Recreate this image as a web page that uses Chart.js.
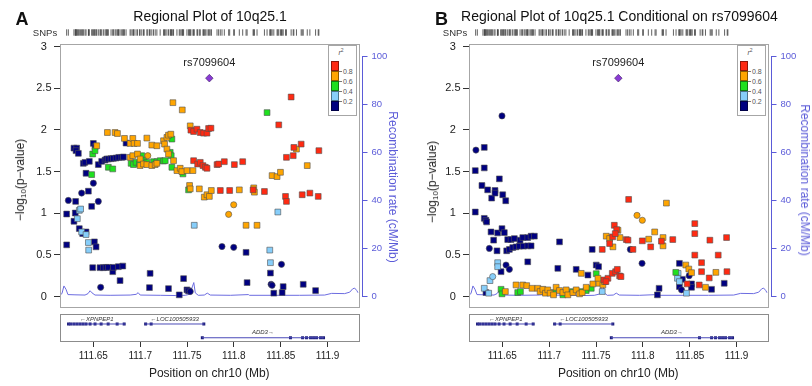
<!DOCTYPE html>
<html><head><meta charset="utf-8">
<script src="https://cdn.jsdelivr.net/npm/chart.js@4.4.1/dist/chart.umd.min.js"></script>
<style>
html,body{margin:0;padding:0;background:#fff;}
#wrap{position:relative;width:812px;height:386px;overflow:hidden;font-family:"Liberation Sans",Arial,Helvetica,sans-serif;color:#111;}
.panel{position:absolute;top:0;height:386px;}
.panel canvas{position:absolute;left:0;top:0;}
.ov{position:absolute;white-space:nowrap;line-height:1;transform:translate(-50%,-50%);}
.ovl{position:absolute;white-space:nowrap;line-height:1;}
</style></head><body>
<div id="wrap">
  <div class="panel" id="pA" style="left:0;width:406px"></div>
  <div class="panel" id="pB" style="left:409px;width:403px"></div>
</div>
<script>
// ---------------- data ----------------
const xMin = 111.6144, xMax = 111.9330;
const xTickVals = [111.65, 111.7, 111.75, 111.8, 111.85, 111.9];
const yTickVals = [0, 0.5, 1, 1.5, 2, 2.5, 3];
const recTickVals = [0, 20, 40, 60, 80, 100];
const r2TickLabels = ['0.8', '0.6', '0.4', '0.2'];

const titleA = 'Regional Plot of 10q25.1';
const titleB = 'Regional Plot of 10q25.1 Conditional on rs7099604';
const topSnpName = 'rs7099604';
const topSnpPos = 111.7738;
const topSnpA = 2.62;
const topSnpB = 2.62;

// [position Mb, -log10 p, marker (0 square, 1 circle)]
const aNavy = [
 [111.6215,0.62,0],[111.6215,0.99,0],[111.6311,1.141,0],[111.6293,1.781,0],[111.6322,1.781,0],
 [111.6315,1.750,0],[111.6340,1.718,0],[111.6393,1.598,0],[111.6411,1.610,0],[111.6422,1.479,0],
 [111.6447,1.264,0],[111.6457,1.622,0],[111.6500,1.837,0],[111.6518,1.797,0],[111.6482,1.082,0],
 [111.6307,1.002,0],[111.6293,0.903,0],[111.6350,0.815,0],[111.6386,0.755,0],[111.6422,0.775,0],
 [111.6511,0.656,0],[111.6529,0.596,0],[111.6553,1.583,0],[111.6589,1.622,0],[111.6625,1.638,0],
 [111.6643,1.650,0],[111.6660,1.650,0],[111.6689,1.654,0],[111.6714,1.658,0],[111.6743,1.662,0],
 [111.6771,1.670,0],[111.6803,1.670,0],[111.6821,1.674,0],[111.6849,1.841,0],[111.6493,0.346,0],
 [111.6571,0.346,0],[111.6607,0.346,0],[111.6636,0.350,0],[111.6660,0.350,0],[111.6707,0.298,0],
 [111.6714,0.350,0],[111.6767,0.358,0],[111.6814,0.366,0],[111.6785,0.191,0],[111.7106,0.278,0],
 [111.7099,0.107,0],[111.7302,0.095,0],[111.7417,0.020,0],[111.7463,0.215,0],[111.7499,0.080,0],
 [111.7516,0.068,0],[111.8130,0.530,0],[111.8141,0.167,0],[111.8390,0.282,0],[111.8426,0.040,0],
 [111.8526,0.119,0],[111.8515,0.048,0],[111.8740,0.147,0],[111.8872,0.072,0],
 [111.6233,1.153,1],[111.6375,1.241,1],[111.6500,1.360,1],[111.6553,1.141,1],[111.6578,0.111,1],
 [111.7534,0.060,1],[111.7873,0.600,1],[111.7998,0.590,1],[111.8397,0.147,1],[111.8408,0.135,1],
 [111.8508,0.386,1]
];
const aLblue = [
 [111.6329,0.934,0],[111.6350,1.034,0],[111.6364,1.050,0],[111.6375,0.775,0],[111.6422,0.744,0],
 [111.6447,0.648,0],[111.6450,0.557,0],[111.7577,0.855,0],[111.8469,1.014,0],[111.8383,0.557,0],
 [111.8390,0.406,0]
];
const aGreen = [
 [111.6482,1.463,0],[111.6493,1.710,0],[111.6518,1.750,0],[111.6660,1.551,0],[111.6707,1.531,0],
 [111.6903,1.598,0],[111.6928,1.583,0],[111.6956,1.610,0],[111.6992,1.590,0],[111.7017,1.690,0],
 [111.7042,1.630,0],[111.7071,1.610,0],[111.7142,1.618,0],[111.7178,1.618,0],[111.7213,1.630,0],
 [111.7249,1.626,0],[111.7267,1.630,0],[111.7338,1.889,0],[111.7320,1.730,0],[111.7331,1.690,0],
 [111.7338,1.551,0],[111.7456,1.471,0],[111.7516,1.280,0],[111.8354,2.207,0]
];
const aOrange = [
 [111.6536,1.809,0],[111.6650,1.968,0],[111.6732,1.968,0],[111.6757,1.956,0],[111.6832,1.897,0],
 [111.6892,1.837,0],[111.6921,1.897,0],[111.6935,1.837,0],[111.6971,1.837,0],[111.7071,1.901,0],
 [111.7124,1.817,0],[111.7178,1.809,0],[111.6892,1.670,0],[111.6921,1.690,0],[111.6971,1.710,0],
 [111.6999,1.650,0],[111.6999,1.571,0],[111.7035,1.590,0],[111.7071,1.583,0],[111.7124,1.571,0],
 [111.7160,1.583,0],[111.7178,1.598,0],[111.7249,1.869,0],[111.7260,1.829,0],[111.7285,1.909,0],
 [111.7302,1.936,0],[111.7327,1.948,0],[111.7285,1.769,0],[111.7302,1.710,0],[111.7349,2.326,0],
 [111.7449,2.239,0],[111.7356,1.630,0],[111.7392,1.511,0],[111.7427,1.539,0],[111.7445,1.499,0],
 [111.7499,1.511,0],[111.7563,1.511,0],[111.7534,2.048,0],[111.7527,1.332,0],[111.7534,1.292,0],
 [111.7631,1.292,0],[111.7684,1.193,0],[111.7713,1.221,0],[111.7738,1.201,0],[111.7759,1.272,0],
 [111.8058,1.280,0],[111.8130,0.855,0],[111.8247,0.855,0],[111.8212,1.304,0],[111.8219,1.252,0],
 [111.8408,1.451,0],[111.8461,1.439,0],[111.8497,1.491,0],[111.8668,1.769,0],[111.8783,1.571,0],
 [111.7081,1.690,1],[111.7944,0.986,1],[111.7998,1.101,1]
];
const aRed = [
 [111.7541,1.996,0],[111.7570,1.980,0],[111.7606,2.008,0],[111.7641,1.968,0],[111.7677,1.960,0],
 [111.7713,1.960,0],[111.7730,2.016,0],[111.7755,2.020,0],[111.7570,1.630,0],[111.7613,1.590,0],
 [111.7641,1.610,0],[111.7670,1.571,0],[111.7695,1.551,0],[111.7713,1.539,0],[111.7820,1.583,0],
 [111.7837,1.590,0],[111.7898,1.618,0],[111.8005,1.583,0],[111.8094,1.618,0],[111.7855,1.272,0],
 [111.7955,1.272,0],[111.8205,1.280,0],[111.8326,1.260,0],[111.8479,2.060,0],[111.8611,2.394,0],
 [111.8561,1.670,0],[111.8633,1.690,0],[111.8640,1.789,0],[111.8718,1.829,0],[111.8551,1.201,0],
 [111.8561,1.141,0],[111.8729,1.221,0],[111.8811,1.241,0],[111.8900,1.201,0],[111.8907,1.750,0]
];

const bNavy = [
 [111.6211,1.511,0],[111.6211,1.014,0],[111.6307,1.789,0],[111.6307,1.543,0],[111.6282,1.332,0],
 [111.6343,1.280,0],[111.6386,1.181,0],[111.6422,1.272,0],[111.6422,1.241,0],[111.6468,1.412,0],
 [111.6504,1.221,0],[111.6536,1.149,0],[111.6307,0.938,0],[111.6325,0.915,0],[111.6332,0.895,0],
 [111.6379,0.775,0],[111.6450,0.763,0],[111.6496,0.815,0],[111.6521,0.767,0],[111.6407,0.676,0],
 [111.6443,0.549,0],[111.6486,0.298,0],
 [111.6557,0.684,0],[111.6593,0.684,0],[111.6628,0.696,0],[111.6689,0.676,0],[111.6718,0.708,0],
 [111.6771,0.708,0],[111.6807,0.724,0],[111.6842,0.724,0],
 [111.6546,0.549,0],[111.6575,0.565,0],[111.6611,0.588,0],[111.6646,0.596,0],[111.6682,0.604,0],
 [111.6725,0.604,0],[111.6771,0.608,0],[111.6807,0.608,0],
 [111.6771,0.417,0],[111.7110,0.656,0],[111.7092,0.338,0],[111.7288,0.326,0],[111.7459,0.565,0],
 [111.7502,0.378,0],[111.7527,0.358,0],[111.7413,0.258,0],[111.6325,0.048,0],[111.8390,0.398,0],
 [111.8422,0.207,0],[111.8390,0.119,0],[111.8519,0.151,0],[111.8519,0.111,0],[111.8733,0.087,0],
 [111.8868,0.159,0],[111.8173,0.099,0],[111.8155,0.020,0],
 [111.6218,1.757,1],[111.6496,2.167,1],[111.6361,0.577,1],[111.6539,0.378,1],[111.6575,0.326,1],
 [111.7866,0.565,1],[111.7991,0.398,1],[111.8494,0.250,1],[111.8412,0.080,1]
];
const bLblue = [
 [111.6307,0.099,0],[111.6354,0.040,0],[111.6368,0.191,0],[111.6397,0.239,1],[111.6450,0.406,0],
 [111.6450,0.358,0],[111.7566,0.060,0],[111.8376,0.278,0],[111.8369,0.219,0],[111.8390,0.179,0],
 [111.8465,0.040,0]
];
const bGreen = [
 [111.6486,0.087,0],[111.6496,0.032,0],[111.6664,0.048,0],[111.6693,0.060,0],[111.6924,0.080,0],
 [111.6967,0.048,0],[111.7046,0.048,0],[111.7146,0.020,0],[111.7245,0.060,0],[111.7342,0.060,0],
 [111.7395,0.072,0],[111.7449,0.099,0],[111.7502,0.274,0],[111.8351,0.290,0]
];
const bOrange = [
 [111.6532,0.060,0],[111.6646,0.139,0],[111.6718,0.139,0],[111.6760,0.131,0],[111.6817,0.099,0],
 [111.6878,0.099,0],[111.6903,0.060,0],[111.6932,0.087,0],[111.6960,0.040,0],[111.6985,0.080,0],
 [111.7010,0.040,0],[111.7046,0.020,0],[111.7074,0.111,0],[111.7110,0.072,0],[111.7146,0.048,0],
 [111.7181,0.080,0],[111.7199,0.020,0],[111.7253,0.048,0],[111.7288,0.080,0],[111.7324,0.032,0],
 [111.7352,0.048,0],[111.7395,0.111,0],[111.7466,0.151,0],[111.7531,0.159,0],[111.7573,0.139,0],
 [111.7520,0.219,0],[111.7591,0.179,0],[111.7342,0.278,0],[111.7680,0.596,0],[111.7609,0.724,0],
 [111.7645,0.696,0],[111.7734,0.795,0],[111.7755,0.708,0],[111.8062,0.688,0],[111.8126,0.775,0],
 [111.8215,0.708,0],[111.8215,0.608,0],[111.8251,1.121,0],[111.8458,0.378,0],[111.8490,0.330,0],
 [111.8519,0.286,0],[111.8779,0.290,0],[111.8668,0.111,0],
 [111.7937,0.974,1],[111.7994,0.915,1]
];
const bRed = [
 [111.7848,1.165,0],[111.7695,0.855,0],[111.7720,0.803,0],[111.7645,0.636,0],[111.7677,0.716,0],
 [111.7705,0.755,0],[111.7823,0.684,0],[111.7841,0.676,0],[111.7566,0.565,0],[111.7894,0.565,0],
 [111.7994,0.668,0],[111.8083,0.596,0],[111.8198,0.664,0],[111.8319,0.684,0],[111.8554,0.875,0],
 [111.8554,0.755,0],[111.8554,0.497,0],[111.8626,0.406,0],[111.8626,0.298,0],[111.8715,0.676,0],
 [111.8804,0.497,0],[111.8893,0.708,0],[111.8897,0.298,0],[111.8708,0.223,0],[111.8472,0.151,0],
 [111.8601,0.139,0],[111.7584,0.199,0],[111.7627,0.219,0],[111.7673,0.278,0],[111.7709,0.298,0],
 [111.7727,0.326,0],[111.7752,0.247,0],[111.7766,0.239,0],[111.7606,0.179,0]
];

// recombination rate (cM/Mb)
const recombPos = [111.6149,111.6165,111.6186,111.6208,111.6229,111.6304,111.6411,111.6443,111.6465,111.6486,
 111.6518,111.6679,111.6893,111.6957,111.6978,111.7000,111.7214,111.7374,111.7481,111.7535,
 111.7556,111.7572,111.7588,111.7620,111.7684,111.7716,111.7748,111.7962,111.8155,111.8166,
 111.8487,111.8701,111.8969,111.9043,111.9182,111.9236,111.9268,111.9289,111.9311,111.9327];
const recombRate = [0.8,1.2,4.4,3.0,0.8,0.7,0.6,1.2,2.4,1.5,
 0.6,0.5,0.6,0.9,1.6,0.6,0.5,0.4,0.5,1.0,
 4.0,5.8,1.5,0.5,0.6,1.4,0.6,0.5,0.8,0.5,
 0.5,0.5,0.6,1.3,1.2,1.8,3.2,3.5,2.5,1.5];

// genes
const geneNames = ['XPNPEP1', 'LOC100505933', 'ADD3'];
const geneStart = [111.6233, 111.7053, 111.7660];
const geneEnd = [111.6839, 111.7684, 111.8960];
const geneStrand = [-1, -1, 1];
const geneRow = [0.63, 0.63, 0.12];
const geneExons = [
 [111.6235,111.6261,111.6294,111.6326,111.6358,111.6390,111.6422,111.6465,111.6518,111.6583,111.6658,111.6754,111.6829],
 [111.7058,111.7117,111.7679],
 [111.7663,111.8604,111.8733,111.8775,111.8818,111.8850,111.8882,111.8925,111.8957]
];

// ---------------- style ----------------
const FONT = '"Liberation Sans", Arial, Helvetica, sans-serif';
Chart.defaults.font.family = FONT;
const BLUE = '#5b5bd8';
const BLUE_LINE = '#6c6ce0';
const BIN_COLORS = ['#000080', '#87cefa', '#1fe01f', '#ffa500', '#ff2a12']; // navy, lblue, green, orange, red
const H = 386, BOX_L = 60, BOX_R = 358.5, MAIN_T = 44, MAIN_B = 306.7, GENE_T = 314, GENE_B = 341, RUG_T = 29, RUG_B = 36;

const boxPlugin = {
  id: 'box',
  afterDraw(chart, args, o) {
    const a = chart.chartArea, ctx = chart.ctx;
    ctx.save();
    ctx.strokeStyle = o.color || '#999';
    ctx.lineWidth = 1;
    ctx.strokeRect(Math.round(a.left) + 0.5, Math.round(a.top) + 0.5, Math.round(a.right - a.left), Math.round(a.bottom - a.top));
    ctx.restore();
  }
};
const mainExtras = {
  id: 'mainExtras',
  afterDraw(chart, args, o) {
    const ctx = chart.ctx, a = chart.chartArea, sx = chart.scales.x, sy = chart.scales.y, s2 = chart.scales.y2;
    ctx.save();
    ctx.strokeStyle = BLUE; ctx.lineWidth = 1;
    const lx = Math.round(a.right) + 3.5;
    ctx.beginPath(); ctx.moveTo(lx, s2.getPixelForValue(0)); ctx.lineTo(lx, s2.getPixelForValue(100)); ctx.stroke();
    ctx.fillStyle = '#222'; ctx.font = '11px ' + FONT; ctx.textAlign = 'center'; ctx.textBaseline = 'middle';
    ctx.fillText(o.label, sx.getPixelForValue(o.pos), sy.getPixelForValue(o.val) - 15);
    ctx.restore();
  }
};
const geneLabels = {
  id: 'geneLabels',
  afterDatasetsDraw(chart) {
    const ctx = chart.ctx, sx = chart.scales.x, sy = chart.scales.y;
    ctx.save();
    ctx.font = 'italic 6px ' + FONT; ctx.fillStyle = '#333'; ctx.textAlign = 'center'; ctx.textBaseline = 'middle';
    geneNames.forEach((n, i) => {
      const t = geneStrand[i] < 0 ? '\u2190' + n : n + '\u2192';
      ctx.fillText(t, sx.getPixelForValue((geneStart[i] + geneEnd[i]) / 2), sy.getPixelForValue(geneRow[i] + 0.19));
    });
    ctx.restore();
  }
};

function mkCanvas(parent, W) {
  const c = document.createElement('canvas');
  c.width = W; c.height = H; c.style.width = W + 'px'; c.style.height = H + 'px';
  parent.appendChild(c); return c;
}
function binDataset(arr, color, order) {
  return {
    data: arr.map(p => ({ x: p[0], y: p[1], s: p[2] })),
    backgroundColor: color, borderColor: '#505050', borderWidth: 0.6,
    pointStyle: c => (c.raw && c.raw.s) ? 'circle' : 'rect',
    pointRadius: c => (c.raw && c.raw.s) ? 3.1 : 4.1,
    yAxisID: 'y', order: order
  };
}
const baseOpts = { responsive: false, animation: false, events: [] };
const noPlug = { legend: { display: false }, tooltip: { enabled: false } };

function buildPanel(id, W, bins, topVal) {
  const el = document.getElementById(id);
  // SNP rug
  const rugPos = [...new Set([].concat(aNavy, aLblue, aGreen, aOrange, aRed).map(p => p[0]).concat([topSnpPos]))].sort((a, b) => a - b);
  new Chart(mkCanvas(el, W), {
    type: 'scatter',
    data: { datasets: [{ data: rugPos.map(x => ({ x, y: 0.5 })), pointStyle: 'line', rotation: 90, pointRadius: 3.2, borderColor: '#3a3a3a', borderWidth: 0.8, clip: false }] },
    options: Object.assign({}, baseOpts, {
      layout: { padding: { top: RUG_T, bottom: H - RUG_B, left: BOX_L, right: W - BOX_R } },
      plugins: noPlug,
      scales: { x: { type: 'linear', min: xMin, max: xMax, display: false }, y: { min: 0, max: 1, display: false } }
    })
  });
  // main plot
  const datasets = [
    { data: recombPos.map((x, i) => ({ x, y: recombRate[i] })), showLine: true, yAxisID: 'y2', borderColor: BLUE_LINE, borderWidth: 1, pointRadius: 0, order: 10 },
    binDataset(bins[0], BIN_COLORS[0], 6),
    binDataset(bins[1], BIN_COLORS[1], 5),
    binDataset(bins[2], BIN_COLORS[2], 4),
    binDataset(bins[3], BIN_COLORS[3], 3),
    binDataset(bins[4], BIN_COLORS[4], 2),
    { data: [{ x: topSnpPos, y: topVal }], yAxisID: 'y', pointStyle: 'rectRot', pointRadius: 3.8, backgroundColor: '#8a3bd4', borderColor: '#3a2060', borderWidth: 0.6, order: 0 }
  ];
  new Chart(mkCanvas(el, W), {
    type: 'scatter',
    data: { datasets },
    options: Object.assign({}, baseOpts, {
      layout: { padding: { top: MAIN_T, bottom: H - MAIN_B, left: 0, right: 0 } },
      plugins: Object.assign({}, noPlug, { box: { color: '#a6a6a6' }, mainExtras: { label: topSnpName, pos: topSnpPos, val: topVal } }),
      scales: {
        x: { type: 'linear', min: xMin, max: xMax, display: false },
        y: {
          position: 'left', min: -0.122, max: 3.03,
          afterBuildTicks: s => { s.ticks = yTickVals.map(v => ({ value: v })); },
          afterFit: s => { s.width = BOX_L; },
          ticks: { callback: v => String(v), font: { size: 11 }, color: '#222', padding: 2.5, crossAlign: 'center', autoSkip: false },
          grid: { drawOnChartArea: false, drawTicks: true, tickLength: 6, tickColor: '#333', tickWidth: 1 },
          border: { display: false }
        },
        y2: {
          position: 'right', min: -4.25, max: 105.21,
          afterBuildTicks: s => { s.ticks = recTickVals.map(v => ({ value: v })); },
          afterFit: s => { s.width = W - BOX_R; },
          ticks: { callback: v => String(v), font: { size: 9.5 }, color: BLUE, padding: 4, autoSkip: false },
          grid: { drawOnChartArea: false, drawTicks: true, tickLength: 9, tickBorderDash: [0, 3, 6], tickColor: BLUE, tickWidth: 1 },
          border: { display: false }
        }
      }
    }),
    plugins: [boxPlugin, mainExtras]
  });
  // gene track with x axis
  const gds = [];
  geneNames.forEach((n, i) => {
    gds.push({ data: [{ x: geneStart[i], y: geneRow[i] }, { x: geneEnd[i], y: geneRow[i] }], showLine: true, borderColor: '#4a4ab8', borderWidth: 1, pointRadius: 0 });
    gds.push({ data: geneExons[i].map(x => ({ x, y: geneRow[i] })), pointStyle: 'rect', pointRadius: 2.1, backgroundColor: '#1c1c7a', borderWidth: 0 });
  });
  new Chart(mkCanvas(el, W), {
    type: 'scatter',
    data: { datasets: gds },
    options: Object.assign({}, baseOpts, {
      layout: { padding: { top: GENE_T, bottom: 0, left: BOX_L, right: W - BOX_R } },
      plugins: Object.assign({}, noPlug, { box: { color: '#8c8c8c' } }),
      scales: {
        x: {
          type: 'linear', position: 'bottom', min: xMin, max: xMax,
          afterBuildTicks: s => { s.ticks = xTickVals.map(v => ({ value: v })); },
          afterFit: s => { s.height = H - GENE_B; },
          ticks: { callback: v => String(v), font: { size: 10 }, color: '#222', padding: 3, maxRotation: 0, autoSkip: false },
          grid: { drawOnChartArea: false, drawTicks: true, tickLength: 6, tickColor: '#333' },
          border: { display: false },
          title: { display: true, text: 'Position on chr10 (Mb)', font: { size: 12 }, color: '#222', padding: { top: 0, bottom: 5 } }
        },
        y: { min: 0, max: 1, display: false }
      }
    }),
    plugins: [boxPlugin, geneLabels]
  });
}

function addText(panel, html, cx, cy, css, cls) {
  const d = document.createElement('div');
  d.className = cls || 'ov';
  d.innerHTML = html;
  d.style.left = cx + 'px'; d.style.top = cy + 'px';
  d.style.cssText += ';' + (css || '');
  document.getElementById(panel).appendChild(d);
  return d;
}
function addLegend(panel) {
  const p = document.getElementById(panel);
  const box = document.createElement('div');
  box.style.cssText = 'position:absolute;left:328px;top:45px;width:27px;height:69px;border:1px solid #a6a6a6;background:#fff;';
  p.appendChild(box);
  addText(panel, '<i>r</i><sup style="font-size:5px">2</sup>', 341, 52, 'font-size:7px;color:#555;');
  const order = [4, 3, 2, 1, 0];
  order.forEach((ci, k) => {
    const b = document.createElement('div');
    b.style.cssText = 'position:absolute;left:331px;top:' + (61 + 10 * k) + 'px;width:8px;height:10px;box-sizing:border-box;border:0.5px solid rgba(0,0,0,0.45);background:' + BIN_COLORS[ci] + ';';
    p.appendChild(b);
  });
  r2TickLabels.forEach((t, k) => {
    const y = 71 + 10 * k;
    const tk = document.createElement('div');
    tk.style.cssText = 'position:absolute;left:339px;top:' + (y - 0.5) + 'px;width:3px;height:1px;background:#777;';
    p.appendChild(tk);
    const d = addText(panel, t, 343, y - 3.5, 'font-size:7px;color:#555;', 'ovl');
  });
}

buildPanel('pA', 406, [aNavy, aLblue, aGreen, aOrange, aRed], topSnpA);
buildPanel('pB', 403, [bNavy, bLblue, bGreen, bOrange, bRed], topSnpB);

// overlays panel A
addText('pA', 'A', 22, 18.5, 'font-size:18px;font-weight:bold;');
addText('pA', titleA, 210, 15.5, 'font-size:14px;');
addText('pA', 'SNPs', 45, 33, 'font-size:9.5px;color:#333;');
addText('pA', '\u2212log<sub style="font-size:8px;vertical-align:-2px">10</sub>(p\u2212value)', 21, 180, 'font-size:12px;color:#222;transform:translate(-50%,-50%) rotate(-90deg);');
addText('pA', 'Recombination rate (cM/Mb)', 393, 187, 'font-size:12px;color:' + BLUE + ';transform:translate(-50%,-50%) rotate(90deg);');
addLegend('pA');
// overlays panel B
addText('pB', 'B', 32.5, 18.5, 'font-size:18px;font-weight:bold;');
addText('pB', titleB, 210.5, 15.5, 'font-size:14px;');
addText('pB', 'SNPs', 46, 33, 'font-size:9.5px;color:#333;');
addText('pB', '\u2212log<sub style="font-size:8px;vertical-align:-2px">10</sub>(p\u2212value)', 24, 182, 'font-size:12px;color:#222;transform:translate(-50%,-50%) rotate(-90deg);');
addText('pB', 'Recombination rate (cM/Mb)', 396, 180, 'font-size:12px;color:' + BLUE + ';transform:translate(-50%,-50%) rotate(90deg);');
addLegend('pB');
</script>
</body></html>
